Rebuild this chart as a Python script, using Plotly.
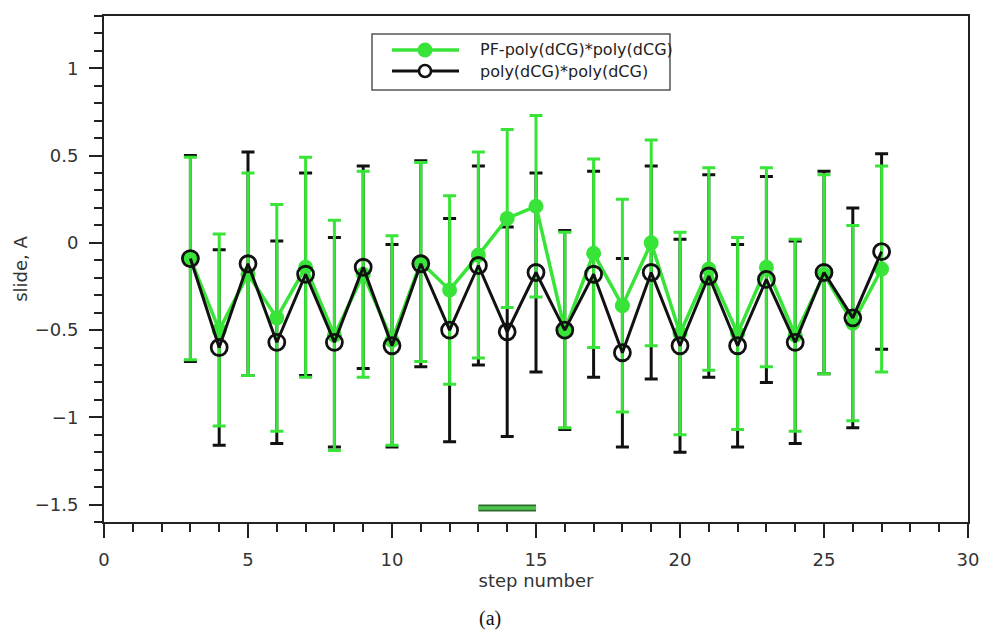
import plotly.graph_objects as go

steps = list(range(3, 28))

pf_label = "PF-poly(dCG)*poly(dCG)"
pf_y = [-0.09, -0.50, -0.18, -0.43, -0.14, -0.53, -0.18, -0.56, -0.11, -0.27,
        -0.07, 0.14, 0.21, -0.50, -0.06, -0.36, 0.00, -0.52, -0.15, -0.52,
        -0.14, -0.53, -0.18, -0.46, -0.15]
pf_err = [0.58, 0.55, 0.58, 0.65, 0.63, 0.66, 0.59, 0.60, 0.57, 0.54,
          0.59, 0.51, 0.52, 0.56, 0.54, 0.61, 0.59, 0.58, 0.58, 0.55,
          0.57, 0.55, 0.57, 0.56, 0.59]

base_label = "poly(dCG)*poly(dCG)"
base_y = [-0.09, -0.60, -0.12, -0.57, -0.18, -0.57, -0.14, -0.59, -0.12, -0.50,
          -0.13, -0.51, -0.17, -0.50, -0.18, -0.63, -0.17, -0.59, -0.19, -0.59,
          -0.21, -0.57, -0.17, -0.43, -0.05]
base_err = [0.59, 0.56, 0.64, 0.58, 0.58, 0.60, 0.58, 0.58, 0.59, 0.64,
            0.57, 0.60, 0.57, 0.57, 0.59, 0.54, 0.61, 0.61, 0.58, 0.58,
            0.59, 0.58, 0.58, 0.63, 0.56]

highlight_x = [13, 15]
highlight_y = [-1.52, -1.52]

GREEN = "#38e438"
BLACK = "#111111"

W, H = 982, 637
ML, MR, MT, MB = 104, 14, 16, 115
PW, PH = W - ML - MR, H - MT - MB


def px(x):
    return (x - ML) / PW


def py(y):
    return (H - MB - y) / PH


fig = go.Figure()

fig.add_trace(go.Scatter(
    x=steps, y=base_y, mode="markers", showlegend=False,
    marker=dict(size=1, color="rgba(0,0,0,0)"),
    error_y=dict(type="data", array=base_err, visible=True, color=BLACK,
                 thickness=3, width=6.5),
    hoverinfo="skip"))

fig.add_trace(go.Scatter(
    x=steps, y=pf_y, mode="lines+markers", name=pf_label, showlegend=False,
    line=dict(color=GREEN, width=3.5),
    marker=dict(symbol="circle", size=15, color=GREEN,
                line=dict(color=GREEN, width=0)),
    error_y=dict(type="data", array=pf_err, visible=True, color=GREEN,
                 thickness=3, width=6.5)))

fig.add_trace(go.Scatter(
    x=steps, y=base_y, mode="lines+markers", name=base_label, showlegend=False,
    line=dict(color=BLACK, width=3),
    marker=dict(symbol="circle-open", size=16, color=BLACK,
                line=dict(color=BLACK, width=2.8))))

fig.add_trace(go.Scatter(
    x=highlight_x, y=highlight_y, mode="lines", showlegend=False,
    line=dict(color="#2f6b2f", width=7), hoverinfo="skip"))
fig.add_trace(go.Scatter(
    x=highlight_x, y=highlight_y, mode="lines", showlegend=False,
    line=dict(color="#4cc64c", width=3.5), hoverinfo="skip"))

LEG_L, LEG_R, LEG_T, LEG_B = 372, 670, 34, 90
ROW1, ROW2 = 50, 71
SX0, SX1, SXC, TX = 392, 459, 425, 478
shapes = [
    dict(type="rect", xref="paper", yref="paper", x0=px(LEG_L), x1=px(LEG_R),
         y0=py(LEG_B), y1=py(LEG_T), line=dict(color="#555555", width=1.5),
         fillcolor="white", layer="above"),
    dict(type="line", xref="paper", yref="paper", x0=px(SX0), x1=px(SX1),
         y0=py(ROW1), y1=py(ROW1), line=dict(color=GREEN, width=3.5), layer="above"),
    dict(type="circle", xref="paper", yref="paper", xsizemode="pixel", ysizemode="pixel",
         xanchor=px(SXC), yanchor=py(ROW1), x0=-7.5, x1=7.5, y0=-7.5, y1=7.5,
         fillcolor=GREEN, line=dict(color=GREEN, width=0), layer="above"),
    dict(type="line", xref="paper", yref="paper", x0=px(SX0), x1=px(SX1),
         y0=py(ROW2), y1=py(ROW2), line=dict(color=BLACK, width=3), layer="above"),
    dict(type="circle", xref="paper", yref="paper", xsizemode="pixel", ysizemode="pixel",
         xanchor=px(SXC), yanchor=py(ROW2), x0=-6, x1=6, y0=-6, y1=6,
         fillcolor="white", line=dict(color=BLACK, width=2.6), layer="above"),
]

leg_font = dict(family="DejaVu Sans", size=16, color="#222222")
axis_font = dict(family="DejaVu Sans", size=18, color="#333333")

annotations = [
    dict(text=pf_label, xref="paper", yref="paper", x=px(TX), y=py(ROW1),
         xanchor="left", yanchor="middle", showarrow=False, font=leg_font),
    dict(text=base_label, xref="paper", yref="paper", x=px(TX), y=py(ROW2),
         xanchor="left", yanchor="middle", showarrow=False, font=leg_font),
    dict(text="(a)", xref="paper", yref="paper", x=px(490), y=py(618),
         xanchor="center", yanchor="middle", showarrow=False,
         font=dict(family="Liberation Serif", size=20, color="#111111")),
]

fig.update_layout(
    width=W, height=H,
    margin=dict(l=ML, r=MR, t=MT, b=MB, autoexpand=False),
    paper_bgcolor="white", plot_bgcolor="white",
    font=dict(family="DejaVu Sans", size=18, color="#222222"),
    showlegend=False,
    shapes=shapes,
    annotations=annotations,
    xaxis=dict(range=[0, 30], dtick=5, tick0=0, showgrid=False, zeroline=False,
               automargin=False,
               showline=True, linecolor="#222222", linewidth=2, mirror=True,
               ticks="outside", ticklen=14, tickwidth=2, tickcolor="#222222",
               tickfont=axis_font, ticklabelstandoff=6,
               minor=dict(dtick=1, ticks="outside", ticklen=8, tickwidth=1.5,
                          tickcolor="#222222", showgrid=False),
               title=dict(text="step number", font=axis_font, standoff=6)),
    yaxis=dict(range=[-1.6, 1.3], dtick=0.5, tick0=0, showgrid=False, zeroline=False,
               automargin=False,
               showline=True, linecolor="#222222", linewidth=2, mirror=True,
               ticks="outside", ticklen=13, tickwidth=2, tickcolor="#222222",
               tickfont=axis_font, ticklabelstandoff=7,
               minor=dict(dtick=0.1, ticks="outside", ticklen=8, tickwidth=1.5,
                          tickcolor="#222222", showgrid=False),
               title=dict(text="slide, A", font=axis_font, standoff=2)),
)

fig.write_html("out.html")
